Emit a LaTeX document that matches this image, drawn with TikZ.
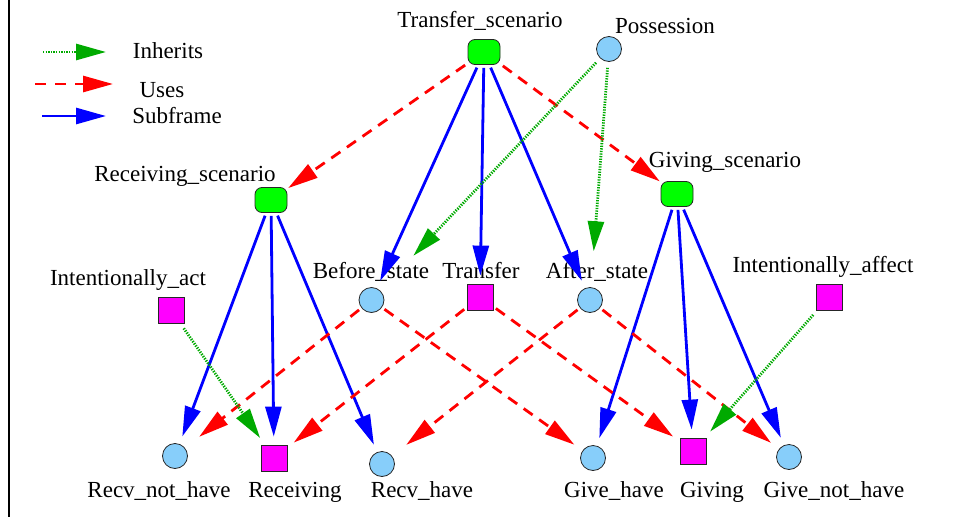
\documentclass[tikz,border=0pt]{standalone}
\usepackage{fontspec}
\setmainfont{Liberation Serif}
\usetikzlibrary{arrows.meta}
\definecolor{scgreen}{RGB}{0,255,0}
\definecolor{stateblue}{RGB}{135,206,250}
\definecolor{framemag}{RGB}{255,0,255}
\definecolor{inhgreen}{RGB}{0,170,0}
\tikzset{
  scen/.style={rectangle, draw=black!85, fill=scgreen, rounded corners=7pt, minimum width=32pt, minimum height=25pt, inner sep=0pt, line width=0.8pt},
  statec/.style={circle, draw=black!85, fill=stateblue, minimum size=25pt, inner sep=0pt, line width=0.8pt},
  framesq/.style={rectangle, draw=black!85, fill=framemag, minimum size=26pt, inner sep=0pt, line width=0.8pt},
  lbl/.style={font=\fontsize{23}{27}\selectfont, anchor=base, inner sep=0pt},
  bigtip/.style={-{Triangle[length=30pt,width=16pt]}},
  subf/.style={draw=blue, line width=2.8pt, bigtip, shorten >=8pt, shorten <=3pt},
  uses/.style={draw=red, line width=2.8pt, dash pattern=on 11pt off 8pt, bigtip, shorten >=8pt, shorten <=3pt},
  inh/.style={draw=inhgreen, line width=2.8pt, dash pattern=on 1.3pt off 1.3pt, bigtip, shorten >=8pt, shorten <=6pt}
}
\begin{document}
\begin{tikzpicture}[x=1pt,y=-1pt]
\useasboundingbox (0,0) rectangle (954,517);
\draw[line width=2pt] (8.5,0) -- (8.5,517);

% legend
\coordinate (inA) at (43,52);  \coordinate (inB) at (106,52);
\coordinate (usA) at (35,84);  \coordinate (usB) at (113,84);
\coordinate (sfA) at (42,116); \coordinate (sfB) at (106,116);
\draw[inh, shorten >=0pt, shorten <=0pt] (inA) -- (inB);
\draw[uses, shorten >=0pt, shorten <=0pt, dash pattern=on 11pt off 9pt] (usA) -- (usB);
\draw[subf, shorten >=0pt, shorten <=0pt] (sfA) -- (sfB);
\node[lbl] (lgI) at (168,58) {Inherits};
\node[lbl] (lgU) at (162,97) {Uses};
\node[lbl] (lgS) at (177,123) {Subframe};

% nodes
\node[scen] (TS) at (484,52) {};
\node[statec] (Pos) at (609,49) {};
\node[scen] (RS) at (271,200) {};
\node[scen] (GS) at (677,194) {};
\node[statec] (BS) at (371.5,300) {};
\node[framesq] (Tr) at (480,297) {};
\node[statec] (AS) at (590,300) {};
\node[framesq] (IAc) at (171,310) {};
\node[framesq] (IAf) at (829,297) {};
\node[statec] (RNH) at (175,456) {};
\node[framesq] (Rcv) at (274,458) {};
\node[statec] (RH) at (382,464) {};
\node[statec] (GH) at (593,458) {};
\node[framesq] (Gv) at (693,451) {};
\node[statec] (GNH) at (789,457) {};

% labels
\node[lbl] (lTS) at (480,27) {Transfer\_scenario};
\node[lbl] (lPos) at (665,33) {Possession};
\node[lbl] (lRS) at (185,181) {Receiving\_scenario};
\node[lbl] (lGS) at (725,167) {Giving\_scenario};
\node[lbl] (lBS) at (371,278) {Before\_state};
\node[lbl] (lTr) at (481,278) {Transfer};
\node[lbl] (lAS) at (597,278) {After\_state};
\node[lbl] (lIAc) at (128,285) {Intentionally\_act};
\node[lbl] (lIAf) at (823,272) {Intentionally\_affect};
\node[lbl] (lRNH) at (159,497) {Recv\_not\_have};
\node[lbl] (lRcv) at (295,497) {Receiving};
\node[lbl] (lRH) at (422,497) {Recv\_have};
\node[lbl] (lGH) at (614,497) {Give\_have};
\node[lbl] (lGv) at (712,497) {Giving};
\node[lbl] (lGNH) at (834,497) {Give\_not\_have};

% subframe
\draw[subf] (TS) -- (BS);
\draw[subf] (TS) -- (Tr);
\draw[subf] (TS) -- (AS);
\draw[subf] (RS) -- (RNH);
\draw[subf] (RS) -- (Rcv);
\draw[subf] (RS) -- (RH);
\draw[subf] (GS) -- (GH);
\draw[subf] (GS) -- (Gv);
\draw[subf] (GS) -- (GNH);

% uses
\draw[uses, shorten >=1pt] (TS) -- (RS);
\draw[uses, shorten >=1pt] (TS) -- (GS);
\draw[uses, shorten >=18pt] (BS) -- (RNH);
\draw[uses, shorten >=10pt] (BS) -- (GH);
\draw[uses] (Tr) -- (Rcv);
\draw[uses] (Tr) -- (Gv);
\draw[uses, shorten >=18pt] (AS) -- (RH);
\draw[uses, shorten >=10pt] (AS) -- (GNH);

% inherits
\draw[inh, shorten >=48pt] (Pos) -- (BS);
\draw[inh, shorten >=36pt] (Pos) -- (AS);
\draw[inh] (IAc) -- (Rcv);
\draw[inh] (IAf) -- (Gv);
\end{tikzpicture}
\end{document}
